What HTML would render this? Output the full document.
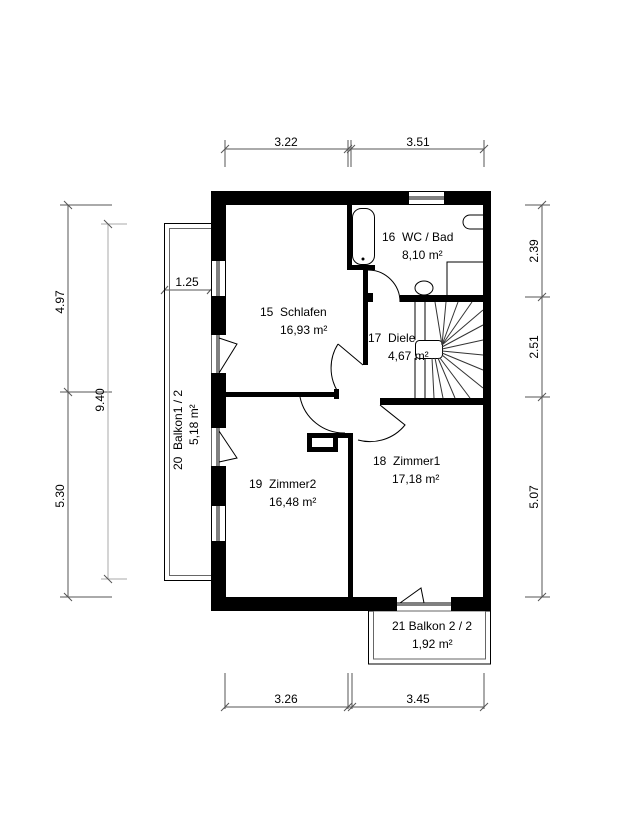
<!DOCTYPE html>
<html><head><meta charset="utf-8"><style>
html,body{margin:0;padding:0;background:#fff}
svg{display:block}
text{font-family:"Liberation Sans",Arial,sans-serif;font-size:12px;fill:#000;white-space:pre}
</style></head><body>
<svg width="625" height="833" viewBox="0 0 625 833" xmlns="http://www.w3.org/2000/svg" xml:space="preserve">
<g stroke="#555" stroke-width="1" fill="none">
<line x1="225" y1="149" x2="484" y2="149"/>
<line x1="225" y1="140" x2="225" y2="167"/><line x1="348" y1="140" x2="348" y2="167"/><line x1="351" y1="140" x2="351" y2="167"/><line x1="484" y1="140" x2="484" y2="167"/>
<line x1="221" y1="153" x2="229" y2="145"/><line x1="344" y1="153" x2="352" y2="145"/><line x1="347" y1="153" x2="355" y2="145"/><line x1="480" y1="153" x2="488" y2="145"/>
<line x1="225" y1="707" x2="484" y2="707"/>
<line x1="225" y1="673" x2="225" y2="709"/><line x1="348" y1="673" x2="348" y2="709"/><line x1="352" y1="673" x2="352" y2="709"/><line x1="484" y1="673" x2="484" y2="709"/>
<line x1="221" y1="711" x2="229" y2="703"/><line x1="344" y1="711" x2="352" y2="703"/><line x1="348" y1="711" x2="356" y2="703"/><line x1="480" y1="711" x2="488" y2="703"/>
<line x1="68" y1="205" x2="68" y2="597"/>
<line x1="60" y1="205" x2="112" y2="205"/><line x1="60" y1="392" x2="112" y2="392"/><line x1="60" y1="597" x2="112" y2="597"/>
<line x1="64" y1="201" x2="72" y2="209"/><line x1="64" y1="388" x2="72" y2="396"/><line x1="64" y1="593" x2="72" y2="601"/>
<line x1="108" y1="224" x2="108" y2="579" stroke="#aaa"/>
<line x1="101" y1="224" x2="127" y2="224" stroke="#aaa"/><line x1="101" y1="579" x2="127" y2="579" stroke="#aaa"/>
<line x1="104" y1="220" x2="112" y2="228"/><line x1="104" y1="575" x2="112" y2="583"/>
<line x1="542" y1="205" x2="542" y2="597"/>
<line x1="525" y1="205" x2="550" y2="205"/><line x1="525" y1="297" x2="550" y2="297"/><line x1="525" y1="397" x2="550" y2="397"/><line x1="525" y1="597" x2="550" y2="597"/>
<line x1="538" y1="209" x2="546" y2="201"/><line x1="538" y1="301" x2="546" y2="293"/><line x1="538" y1="401" x2="546" y2="393"/><line x1="538" y1="601" x2="546" y2="593"/>
<line x1="164" y1="290" x2="211" y2="290"/><line x1="161" y1="294" x2="168" y2="286"/><line x1="207" y1="294" x2="214" y2="286"/>
</g>
<g font-size="12">
<text x="286" y="146" text-anchor="middle">3.22</text>
<text x="418" y="146" text-anchor="middle">3.51</text>
<text x="286" y="703" text-anchor="middle">3.26</text>
<text x="418" y="703" text-anchor="middle">3.45</text>
<text x="187" y="286" text-anchor="middle">1.25</text>
<text transform="translate(64,302) rotate(-90)" text-anchor="middle">4.97</text>
<text transform="translate(64,496) rotate(-90)" text-anchor="middle">5.30</text>
<text transform="translate(104,400) rotate(-90)" text-anchor="middle">9.40</text>
<text transform="translate(538,251) rotate(-90)" text-anchor="middle">2.39</text>
<text transform="translate(538,347) rotate(-90)" text-anchor="middle">2.51</text>
<text transform="translate(538,497) rotate(-90)" text-anchor="middle">5.07</text>
</g>
<g fill="none" stroke="#000" stroke-width="1">
<rect x="164.5" y="223.5" width="47" height="357"/>
<rect x="169.5" y="228.5" width="42" height="347" stroke="#666"/>
<rect x="368.5" y="611" width="122" height="53"/>
<rect x="373.5" y="611" width="112" height="48" stroke="#666"/>
</g>
<g fill="#000">
<rect x="211" y="191" width="197" height="14"/>
<rect x="445" y="191" width="46" height="14"/>
<rect x="483" y="191" width="8" height="420"/>
<rect x="211" y="597" width="186" height="14"/>
<rect x="451" y="597" width="40" height="14"/>
<rect x="211" y="191" width="15" height="69"/>
<rect x="211" y="297" width="15" height="38"/>
<rect x="211" y="373" width="15" height="55"/>
<rect x="211" y="466" width="15" height="39"/>
<rect x="211" y="542" width="15" height="69"/>
<rect x="226" y="392" width="112" height="5"/>
<rect x="380" y="398" width="103" height="7"/>
<rect x="363" y="270" width="5" height="95"/>
<rect x="347" y="205" width="5" height="65"/>
<rect x="347" y="265" width="28" height="5"/>
<rect x="367" y="293" width="6" height="9"/>
<rect x="400" y="295" width="83" height="7"/>
<rect x="348" y="433" width="5" height="164"/>
<rect x="338" y="433" width="15" height="5"/>
<rect x="334" y="389" width="5" height="10"/>
</g>
<rect x="309.5" y="435.5" width="26" height="14" fill="none" stroke="#000" stroke-width="5"/>
<g fill="#fff" stroke="#000" stroke-width="1">
<rect x="408.5" y="191.5" width="36" height="13"/>
<line x1="408" y1="197" x2="445" y2="197"/><line x1="408" y1="199" x2="445" y2="199"/>
<rect x="211.5" y="260.5" width="14" height="36"/>
<line x1="217" y1="260" x2="217" y2="297"/><line x1="219" y1="260" x2="219" y2="297"/>
<rect x="211.5" y="505.5" width="14" height="36"/>
<line x1="217" y1="505" x2="217" y2="542"/><line x1="219" y1="505" x2="219" y2="542"/>
<line x1="397" y1="603" x2="451" y2="603"/><line x1="397" y1="605" x2="451" y2="605"/>
<line x1="217" y1="335" x2="217" y2="373"/><line x1="219" y1="335" x2="219" y2="373"/>
<line x1="217" y1="428" x2="217" y2="466"/><line x1="219" y1="428" x2="219" y2="466"/>
</g>
<g fill="none" stroke="#000" stroke-width="1">
<path d="M219 338 L237 344 L219 373"/>
<path d="M219 431 L237 458 L219 462"/>
<path d="M400 603 L421 588 L424 603"/>
<path d="M368 270 A32 32 0 0 1 400 302"/>
<path d="M338 344 L363 365 M338 344 A45 45 0 0 0 338 392"/>
<path d="M300 397 A45 45 0 0 0 345 433"/>
<path d="M380 405 L405 425 A45 45 0 0 1 358 440"/>
<rect x="352.5" y="208.5" width="22" height="56" rx="9"/>
<circle cx="363" cy="259" r="1" fill="#000"/>
<path d="M483 215 L470 215 A6 6 0 0 0 470 229 L483 229"/>
<path d="M447 295 L447 262 L483 262"/>
<ellipse cx="424" cy="288" rx="9" ry="7"/>
<line x1="415" y1="302" x2="415" y2="340"/><line x1="425" y1="302" x2="425" y2="340"/>
<line x1="415" y1="358" x2="415" y2="398"/><line x1="425" y1="358" x2="425" y2="398"/>
<rect x="415.5" y="340.5" width="27" height="18" rx="4"/>
<g stroke="#333">
<line x1="442" y1="345" x2="435" y2="302"/><line x1="442" y1="345" x2="446" y2="302"/>
<line x1="442" y1="345" x2="458" y2="302"/><line x1="442" y1="345" x2="472" y2="302"/>
<line x1="442" y1="345" x2="483" y2="310"/><line x1="442" y1="347" x2="483" y2="325"/>
<line x1="442" y1="349" x2="483" y2="340"/><line x1="442" y1="351" x2="483" y2="355"/>
<line x1="442" y1="353" x2="483" y2="370"/><line x1="442" y1="355" x2="483" y2="388"/>
<line x1="440" y1="358" x2="470" y2="398"/><line x1="438" y1="358" x2="455" y2="398"/>
<line x1="435" y1="358" x2="443" y2="398"/><line x1="432" y1="358" x2="434" y2="398"/>
</g>
</g>
<g font-size="12">
<text x="260" y="316">15&#160; Schlafen</text>
<text x="280" y="334">16,93 m²</text>
<text x="382" y="241">16&#160; WC / Bad</text>
<text x="402" y="259">8,10 m²</text>
<text x="368" y="342">17&#160; Diele</text>
<text x="388" y="360">4,67 m²</text>
<text x="373" y="465">18&#160; Zimmer1</text>
<text x="392" y="483">17,18 m²</text>
<text x="249" y="488">19&#160; Zimmer2</text>
<text x="269" y="506">16,48 m²</text>
<text x="392" y="630">21 Balkon 2 / 2</text>
<text x="412" y="648">1,92 m²</text>
<text transform="translate(182,470) rotate(-90)">20&#160; Balkon1 / 2</text>
<text transform="translate(198,445) rotate(-90)">5,18 m²</text>
</g>
</svg>
</body></html>
